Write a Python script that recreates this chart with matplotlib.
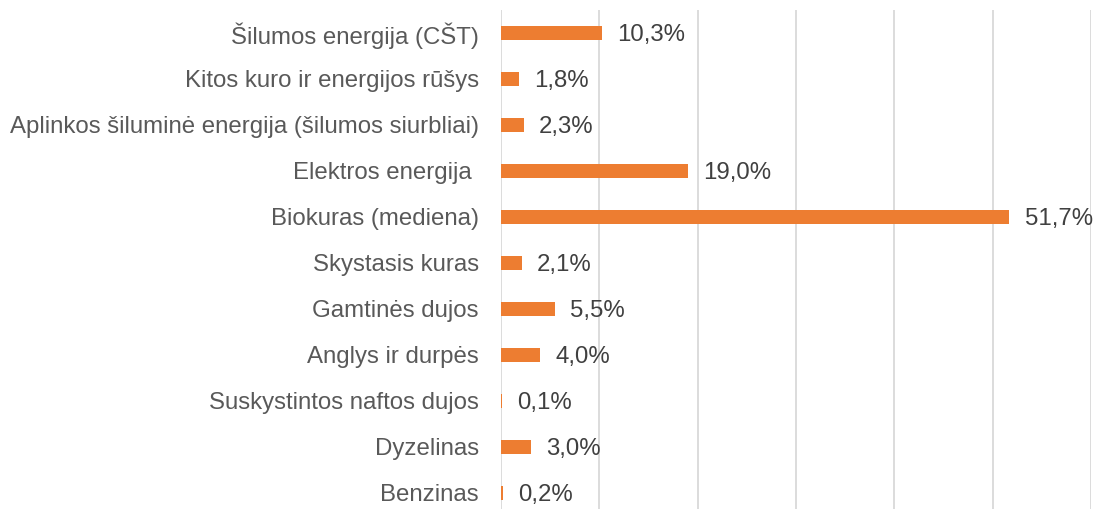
import matplotlib.pyplot as plt

plt.rcParams['font.family'] = ['Liberation Sans', 'DejaVu Sans']

# kuro rūšys (iš viršaus į apačią) ir dalys, %
categories = ['Šilumos energija (CŠT)', 'Kitos kuro ir energijos rūšys',
              'Aplinkos šiluminė energija (šilumos siurbliai)', 'Elektros energija ',
              'Biokuras (mediena)', 'Skystasis kuras', 'Gamtinės dujos',
              'Anglys ir durpės', 'Suskystintos naftos dujos', 'Dyzelinas', 'Benzinas']
values = [10.3, 1.8, 2.3, 19.0, 51.7, 2.1, 5.5, 4.0, 0.1, 3.0, 0.2]
gridlines = [0, 10, 20, 30, 40, 50, 60]

fig = plt.figure(figsize=(10.93, 5.09), dpi=100)
ax = fig.add_axes([501 / 1093, 0.0, 590 / 1093, 499 / 509])

pos = list(range(len(categories)))
ax.barh(pos, values, height=0.31, color='#ED7D31', zorder=3)

for y, v in zip(pos, values):  # reikšmių žymės
    ax.annotate('{:.1f}%'.format(v).replace('.', ','), (v, y), xytext=(11, -1.5),
                textcoords='offset points', va='center', ha='left',
                fontsize=17.3, color='#404040')

ax.set_xlim(0, 60)
ax.set_ylim(10.35, -0.5)
ax.set_xticks(gridlines)
ax.set_xticklabels([])
ax.tick_params(axis='x', length=0)
ax.set_yticks(pos)
ax.set_yticklabels(categories, fontsize=17.3, color='#595959')
ax.tick_params(axis='y', length=0, pad=16)
ax.grid(axis='x', color='#d9d9d9', linewidth=1.3, zorder=0)
for s in ax.spines.values():
    s.set_visible(False)

fig.savefig('out.png', dpi=100)
